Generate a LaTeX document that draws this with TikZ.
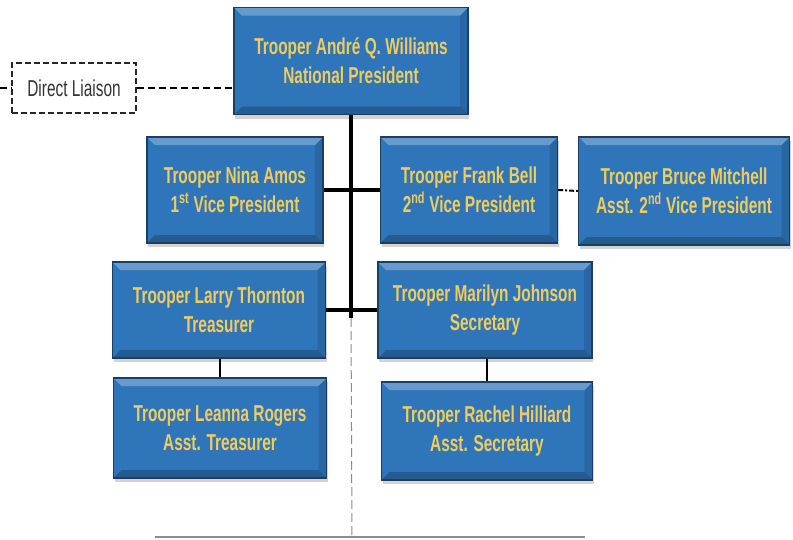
\documentclass[tikz,border=0pt]{standalone}
\usepackage{fontspec}
\setmainfont{Liberation Sans}[FakeStretch=0.67]
\usetikzlibrary{shadows}
\definecolor{boxblue}{RGB}{47,117,186}
\definecolor{boxedge}{RGB}{28,62,100}
\definecolor{namegold}{RGB}{240,204,92}
\tikzset{
  officer/.style={draw=boxedge, line width=1.2pt, fill=boxblue, text=namegold,
    font=\bfseries\fontsize{23}{29}\selectfont, align=center, inner sep=0pt,
    drop shadow={shadow xshift=1pt, shadow yshift=-4pt, opacity=.35},
    path picture={
      \fill[white, opacity=.28] (path picture bounding box.north west) -- (path picture bounding box.north east)
        -- ([xshift=-8pt,yshift=-8pt]path picture bounding box.north east) -- ([xshift=8pt,yshift=-8pt]path picture bounding box.north west) -- cycle;
      \fill[black, opacity=.22] (path picture bounding box.south west) -- (path picture bounding box.south east)
        -- ([xshift=-8pt,yshift=8pt]path picture bounding box.south east) -- ([xshift=8pt,yshift=8pt]path picture bounding box.south west) -- cycle;
      \fill[black, opacity=.12] (path picture bounding box.north east) -- (path picture bounding box.south east)
        -- ([xshift=-8pt,yshift=8pt]path picture bounding box.south east) -- ([xshift=-8pt,yshift=-8pt]path picture bounding box.north east) -- cycle;
    }},
  mainline/.style={line width=4pt},
  subline/.style={line width=1.4pt},
  liaisonline/.style={line width=2pt, dash pattern=on 7pt off 4pt},
}
\begin{document}
\begin{tikzpicture}[x=1pt,y=-1pt]
  \useasboundingbox (0,0) rectangle (793,539);
  \node[officer, minimum width=234pt, minimum height=107pt] (pres) at (351,61) {Trooper André Q. Williams\\National President};
  \node[draw=black!85, line width=1.4pt, dash pattern=on 6pt off 3pt, minimum width=124pt, minimum height=50pt,
        font=\fontsize{23}{25}\selectfont, text=black!80] (liaison) at (74,88) {Direct Liaison};
  \node[officer, minimum width=176pt, minimum height=106pt] (vpone) at (235,190) {Trooper Nina Amos\\1\textsuperscript{st} Vice President};
  \node[officer, minimum width=177pt, minimum height=106pt] (vptwo) at (469,190) {Trooper Frank Bell\\2\textsuperscript{nd} Vice President};
  \node[officer, minimum width=211pt, minimum height=108pt] (asstvp) at (684,191) {Trooper Bruce Mitchell\\Asst. 2\textsuperscript{nd} Vice President};
  \node[officer, minimum width=213pt, minimum height=96pt] (treas) at (219,310) {Trooper Larry Thornton\\Treasurer};
  \node[officer, minimum width=214pt, minimum height=96pt] (secr) at (485,310) {Trooper Marilyn Johnson\\Secretary};
  \node[officer, minimum width=213pt, minimum height=100pt] (asstreas) at (220,428) {Trooper Leanna Rogers\\Asst. Treasurer};
  \node[officer, minimum width=211pt, minimum height=98pt] (assecr) at (487,431) {Trooper Rachel Hilliard\\Asst. Secretary};

  \coordinate (spine) at (351,318);
  \coordinate (farleft) at (0,88);
  \coordinate (bottom) at (352,539);
  \coordinate (baseL) at (155,537);
  \coordinate (baseR) at (585,537);

  \draw[mainline] (pres.south) -- (spine);
  \draw[mainline] (vpone.east) -- (vptwo.west);
  \draw[mainline] (treas.east) -- (secr.west);
  \draw[line width=2pt, dash pattern=on 5pt off 2pt on 2pt off 2pt] (vptwo.east) -- (asstvp.west);
  \draw[subline] (treas.south -| asstreas.north) -- (asstreas.north);
  \draw[subline] (secr.south -| assecr.north) -- (assecr.north);
  \draw[liaisonline] (farleft) -- (liaison.west);
  \draw[liaisonline] (liaison.east) -- (liaison.east -| pres.west);
  \draw[black!45, line width=1pt, dash pattern=on 9pt off 4pt] (spine) -- (bottom);
  \draw[black!45, line width=1.2pt] (baseL) -- (baseR);
\end{tikzpicture}
\end{document}
